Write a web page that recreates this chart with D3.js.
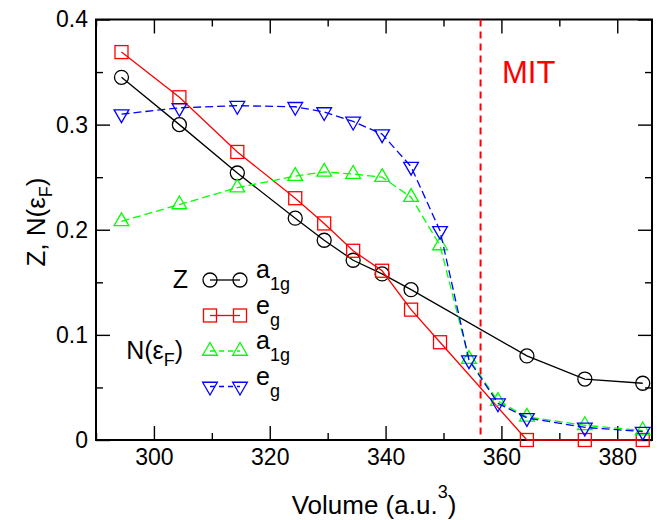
<!DOCTYPE html>
<html>
<head>
<meta charset="utf-8">
<script src="https://cdn.jsdelivr.net/npm/d3@7"></script>
<style>
  html, body { margin: 0; padding: 0; background: #fff; }
  svg { display: block; font-family: "Liberation Sans", Arial, Helvetica, sans-serif; }
</style>
</head>
<body>
<div id="chart"></div>
<script>
// volumes (a.u.^3) for each set of points
const volZa1g = [294.4, 304.4, 314.4, 324.4, 329.4, 334.4, 339.4, 344.4, 364.4, 374.4, 384.4];
const volZeg  = [294.4, 304.4, 314.4, 324.4, 329.4, 334.4, 339.4, 344.4, 349.4, 364.4, 374.4, 384.4];
const volN    = [294.4, 304.4, 314.4, 324.4, 329.4, 334.4, 339.4, 344.4, 349.4, 354.4, 359.4, 364.4, 374.4, 384.4];

// quasiparticle weight Z
const zA1g = [0.345, 0.300, 0.254, 0.211, 0.190, 0.171, 0.158, 0.143, 0.080, 0.058, 0.054];
const zEg  = [0.369, 0.326, 0.274, 0.230, 0.206, 0.180, 0.161, 0.124, 0.093, 0.0, 0.0, 0.0];

// density of states at the Fermi level
const nA1g = [0.208, 0.224, 0.240, 0.251, 0.255, 0.253, 0.250, 0.231, 0.185, 0.077, 0.037, 0.022, 0.014, 0.009];
const nEg  = [0.310, 0.316, 0.318, 0.317, 0.312, 0.303, 0.291, 0.260, 0.199, 0.076, 0.035, 0.021, 0.012, 0.008];

const mitVolume = 356.4;

const xMajorTicks = [300, 320, 340, 360, 380];
const xMinorTicks = [290, 310, 330, 350, 370];
const yMajorTicks = [0, 0.1, 0.2, 0.3, 0.4];
const yMinorTicks = [0.05, 0.15, 0.25, 0.35];

const series = [
    { vols: volZa1g, vals: zA1g, color: '#000000', symbol: 'circle',  dashed: false, name: 'a', sub: '1g' },
    { vols: volZeg,  vals: zEg,  color: '#ff0000', symbol: 'square',  dashed: false, name: 'e', sub: 'g' },
    { vols: volN,    vals: nA1g, color: '#00ff00', symbol: 'triUp',   dashed: true,  name: 'a', sub: '1g' },
    { vols: volN,    vals: nEg,  color: '#0000ff', symbol: 'triDown', dashed: true,  name: 'e', sub: 'g' }
];

const W = 666, H = 520;
const plot = { left: 96, right: 652, top: 19.5, bottom: 440 };

const svg = d3.select('#chart').append('svg')
    .attr('width', W)
    .attr('height', H);

const x = d3.scaleLinear().domain([290, 386]).range([plot.left, plot.right]);
const y = d3.scaleLinear().domain([0, 0.4]).range([plot.bottom, plot.top]);

// marker drawing
function drawMarker(g, sym, cx, cy, color) {
    const common = s => s.attr('fill', 'none').attr('stroke', color).attr('stroke-width', 1.3);
    if (sym === 'circle') {
        g.append('circle').attr('cx', cx).attr('cy', cy).attr('r', 7).call(common);
    } else if (sym === 'square') {
        g.append('rect').attr('x', cx - 6.5).attr('y', cy - 6.5).attr('width', 13).attr('height', 13).call(common);
    } else {
        const r = 8.5, s = sym === 'triUp' ? 1 : -1;
        const pts = [[cx, cy - s * r], [cx + r * 0.866, cy + s * r * 0.5], [cx - r * 0.866, cy + s * r * 0.5]];
        g.append('polygon').attr('points', pts.map(p => p.join(',')).join(' ')).call(common);
    }
}

// axes: ticks point inward on all four sides
function addAxis(axis, tx, ty) {
    return svg.append('g').attr('transform', `translate(${tx},${ty})`).call(axis)
        .attr('font-family', null)
        .attr('font-size', 23)
        .call(g => g.select('.domain').remove())
        .call(g => g.selectAll('line').attr('stroke', '#000').attr('stroke-width', 1.4))
        .call(g => g.selectAll('text').attr('fill', '#000'));
}

addAxis(d3.axisBottom(x).tickValues(xMajorTicks).tickSizeInner(-14).tickSizeOuter(0).tickPadding(9)
    .tickFormat(d3.format('d')), 0, plot.bottom);
addAxis(d3.axisBottom(x).tickValues(xMinorTicks).tickSizeInner(-7).tickSizeOuter(0).tickFormat(''), 0, plot.bottom);
addAxis(d3.axisTop(x).tickValues(xMajorTicks).tickSizeInner(-14).tickSizeOuter(0).tickFormat(''), 0, plot.top);
addAxis(d3.axisTop(x).tickValues(xMinorTicks).tickSizeInner(-7).tickSizeOuter(0).tickFormat(''), 0, plot.top);

addAxis(d3.axisLeft(y).tickValues(yMajorTicks).tickSizeInner(-14).tickSizeOuter(0).tickPadding(8)
    .tickFormat(d => d === 0 ? '0' : d3.format('.1f')(d)), plot.left, 0);
addAxis(d3.axisLeft(y).tickValues(yMinorTicks).tickSizeInner(-7).tickSizeOuter(0).tickFormat(''), plot.left, 0);
addAxis(d3.axisRight(y).tickValues(yMajorTicks).tickSizeInner(-14).tickSizeOuter(0).tickFormat(''), plot.right, 0);
addAxis(d3.axisRight(y).tickValues(yMinorTicks).tickSizeInner(-7).tickSizeOuter(0).tickFormat(''), plot.right, 0);

// frame
svg.append('rect')
    .attr('x', plot.left).attr('y', plot.top)
    .attr('width', plot.right - plot.left).attr('height', plot.bottom - plot.top)
    .attr('fill', 'none').attr('stroke', '#000').attr('stroke-width', 2);

// MIT line
svg.append('line')
    .attr('x1', x(mitVolume)).attr('x2', x(mitVolume))
    .attr('y1', plot.top).attr('y2', plot.bottom)
    .attr('stroke', '#ff0000').attr('stroke-width', 2).attr('stroke-dasharray', '7,5');

svg.append('text')
    .attr('x', 502).attr('y', 83)
    .attr('font-size', 31).attr('fill', '#ff0000')
    .text('MIT');

// data series
const line = d3.line().x(d => x(d[0])).y(d => y(d[1]));

series.forEach(s => {
    const pts = s.vols.map((v, i) => [v, s.vals[i]]);
    const g = svg.append('g');
    g.append('path')
        .attr('d', line(pts))
        .attr('fill', 'none')
        .attr('stroke', s.color)
        .attr('stroke-width', 1.3)
        .attr('stroke-dasharray', s.dashed ? '8,4' : null);
    pts.forEach(p => drawMarker(g, s.symbol, x(p[0]), y(p[1]), s.color));
});

// legend
const legend = svg.append('g');
const rowY0 = 280, rowStep = 35.5;
series.forEach((s, i) => {
    const ry = rowY0 + i * rowStep;
    legend.append('line')
        .attr('x1', 210).attr('x2', 240).attr('y1', ry).attr('y2', ry)
        .attr('stroke', s.color).attr('stroke-width', 1.3)
        .attr('stroke-dasharray', s.dashed ? '5,4' : null);
    drawMarker(legend, s.symbol, 210, ry, s.color);
    drawMarker(legend, s.symbol, 240, ry, s.color);
    const t = legend.append('text').attr('x', 256).attr('y', ry - 2).attr('font-size', 25).attr('fill', '#000');
    t.append('tspan').text(s.name);
    t.append('tspan').attr('dy', 12).attr('font-size', 18).text(s.sub);
});

legend.append('text')
    .attr('x', 188).attr('y', 288).attr('text-anchor', 'end')
    .attr('font-size', 25).attr('fill', '#000')
    .text('Z');

const nLab = legend.append('text')
    .attr('x', 183).attr('y', rowY0 + 2 * rowStep + 8).attr('text-anchor', 'end')
    .attr('font-size', 25).attr('fill', '#000');
nLab.append('tspan').text('N(ε');
nLab.append('tspan').attr('dy', 7).attr('font-size', 18).text('F');
nLab.append('tspan').attr('dy', -7).text(')');

// axis titles
const xt = svg.append('text')
    .attr('x', (plot.left + plot.right) / 2).attr('y', 514)
    .attr('text-anchor', 'middle').attr('font-size', 26).attr('fill', '#000');
xt.append('tspan').text('Volume (a.u.');
xt.append('tspan').attr('dy', -16).attr('font-size', 18).text('3');
xt.append('tspan').attr('dy', 16).text(')');

const yt = svg.append('text')
    .attr('transform', 'translate(45,222) rotate(-90)')
    .attr('text-anchor', 'middle').attr('font-size', 26).attr('fill', '#000');
yt.append('tspan').text('Z, N(ε');
yt.append('tspan').attr('dy', 7).attr('font-size', 18).text('F');
yt.append('tspan').attr('dy', -7).text(')');
</script>
</body>
</html>
